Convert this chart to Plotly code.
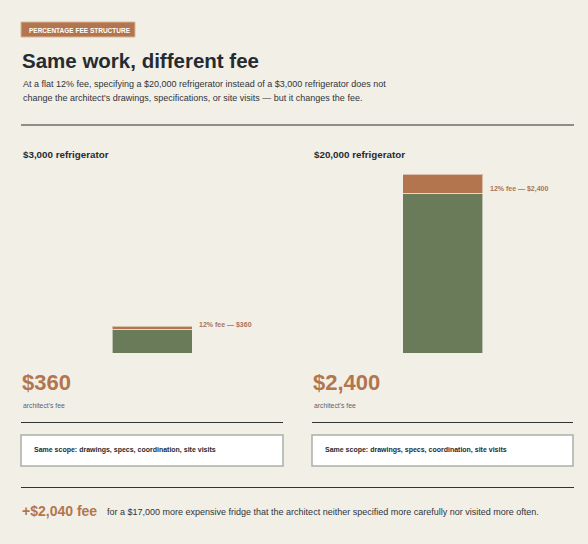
import plotly.graph_objects as go

# data
fridges = ["$3,000 refrigerator", "$20,000 refrigerator"]
prices = [3000, 20000]
fees = [360, 2400]
fee_labels = ["12% fee — $360", "12% fee — $2,400"]
big_labels = ["$360", "$2,400"]
extra_fee = "+$2,040 fee"

W, H = 588, 544
BG = "#f2efe7"
GREEN = "#6a7b5a"
ORANGE = "#b3754d"
DARK = "#262b30"
FONT = "Liberation Sans, Arial, sans-serif"


def px(x):
    return x / W


def py(y):
    return 1 - y / H


# panel geometry (pixels)
panels = [(21, 283), (312, 573)]
bar_px = 80
bar_bottom, bar_top = 353, 174
label_shift = [3, -5]

fig = go.Figure()
totals = [p + f for p, f in zip(prices, fees)]

for i, (name, price, fee) in enumerate(zip(fridges, prices, fees)):
    xa = "x" if i == 0 else "x2"
    ya = "y" if i == 0 else "y2"
    w = bar_px / (panels[i][1] - panels[i][0])
    fig.add_trace(go.Bar(
        x=[name], y=[price], xaxis=xa, yaxis=ya, width=w,
        marker=dict(color=GREEN, line=dict(color="rgba(242,239,231,0.6)", width=1)),
        hoverinfo="skip", showlegend=False))
    fig.add_trace(go.Bar(
        x=[name], y=[fee], xaxis=xa, yaxis=ya, width=w,
        marker=dict(color=ORANGE, line=dict(color="rgba(242,239,231,0.6)", width=1)),
        hoverinfo="skip", showlegend=False))
    # fee label at right of bar
    fig.add_annotation(
        x=w / 2, y=price + fee / 2, xref=xa, yref=ya,
        text="<b>" + fee_labels[i] + "</b>", showarrow=False,
        xanchor="left", yanchor="middle", xshift=5, yshift=label_shift[i],
        font=dict(family=FONT, size=7, color="#a8745a"))

axis_common = dict(visible=False, fixedrange=True)
ydom = [py(bar_bottom), py(bar_top)]
fig.update_layout(
    barmode="stack",
    width=W, height=H,
    margin=dict(l=0, r=0, t=0, b=0),
    paper_bgcolor=BG, plot_bgcolor=BG,
    xaxis=dict(domain=[px(panels[0][0]), px(panels[0][1])], range=[-0.5, 0.5],
               type="category", **axis_common),
    xaxis2=dict(domain=[px(panels[1][0]), px(panels[1][1])], range=[-0.5, 0.5],
                type="category", **axis_common),
    yaxis=dict(domain=ydom, range=[0, max(totals)], anchor="x", **axis_common),
    yaxis2=dict(domain=ydom, range=[0, max(totals)], anchor="x2", **axis_common),
    font=dict(family=FONT, color=DARK),
)

shapes = []
ann = []


def text(x, y, s, size, color=DARK, bold=False):
    ann.append(dict(x=px(x), y=py(y), xref="paper", yref="paper",
                    text=("<b>%s</b>" % s) if bold else s, showarrow=False,
                    xanchor="left", yanchor="middle",
                    font=dict(family=FONT, size=size, color=color)))


def hline(x0, x1, y, color, width):
    shapes.append(dict(type="line", xref="paper", yref="paper",
                       x0=px(x0), x1=px(x1), y0=py(y), y1=py(y),
                       line=dict(color=color, width=width)))


# header tag
shapes.append(dict(type="rect", xref="paper", yref="paper",
                   x0=px(21), x1=px(135), y0=py(37), y1=py(22),
                   fillcolor=ORANGE, line=dict(color="#d8b69c", width=1)))
text(27, 30, "PERCENTAGE FEE STRUCTURE", 6.5, "white", True)
text(20, 60, "Same work, different fee", 20.5, DARK, True)
text(21, 84, "At a flat 12% fee, specifying a $20,000 refrigerator instead of a $3,000 refrigerator does not", 9, "#30343a")
text(21, 98, "change the architect's drawings, specifications, or site visits — but it changes the fee.", 9, "#30343a")
hline(21, 574, 125, "#8e8e88", 2)

for i, (x0, x1) in enumerate(panels):
    text(x0, 154, fridges[i], 9.8, DARK, True)
    text(x0 - 1, 382, big_labels[i], 22, ORANGE, True)
    text(x0, 405, "architect's fee", 6.8, "#5b6275")
    hline(x0, x1, 422.5, "#2f3431", 1)
    shapes.append(dict(type="rect", xref="paper", yref="paper",
                       x0=px(x0), x1=px(x1), y0=py(466), y1=py(435),
                       fillcolor="white", line=dict(color="#a8b0a8", width=1.5)))
    text(x0 + 11, 450, "Same scope: drawings, specs, coordination, site visits", 7, DARK, True)

hline(21, 574, 487.5, "#2f3431", 1)
text(20, 511, extra_fee, 14, ORANGE, True)
text(105, 512, "for a $17,000 more expensive fridge that the architect neither specified more carefully nor visited more often.", 9, "#30343a")

fig.update_layout(shapes=shapes, annotations=list(fig.layout.annotations) + ann)
fig.write_html(
    "out.html",
    config={"displayModeBar": False},
    post_script="document.body.style.margin='0';document.body.style.background='%s';" % BG,
)
